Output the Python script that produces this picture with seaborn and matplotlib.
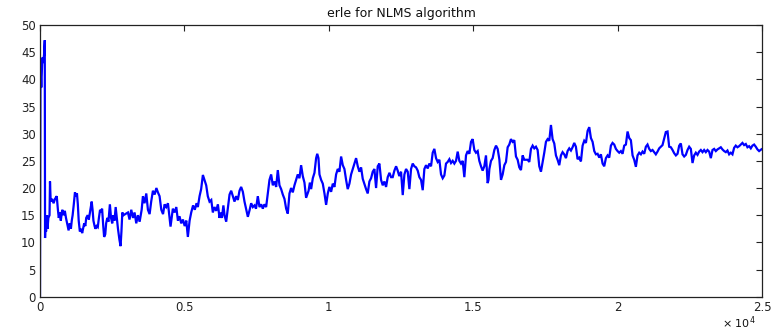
import matplotlib
matplotlib.use("Agg")
import matplotlib.pyplot as plt
import seaborn as sns
import pandas as pd

# sample index (x) and ERLE value (dB)
sample = [
    0, 15, 30, 45, 60, 80, 110, 140, 165, 175, 190, 210, 240, 260, 290, 330, 346, 370, 420, 470,
    520, 580, 620, 650, 690, 720, 770, 820, 860, 900, 950, 990, 1030, 1070, 1100, 1130, 1170, 1210,
    1250, 1280, 1310, 1340, 1380, 1420, 1460, 1490, 1530, 1570, 1600, 1650, 1690, 1730, 1790, 1820,
    1850, 1890, 1920, 1960, 2000, 2040, 2080, 2110, 2150, 2190, 2220, 2260, 2290, 2330, 2370, 2420,
    2460, 2500, 2540, 2580, 2620, 2660, 2700, 2750, 2790, 2820, 2850, 2890,
    3045, 3100, 3160, 3220, 3275, 3333, 3390, 3450, 3520, 3564, 3620, 3680, 3737, 3795, 3850, 3910,
    3970, 4030, 4083, 4140, 4200, 4260, 4315, 4370, 4430, 4520, 4600, 4660, 4720, 4775, 4830, 4890,
    4950, 5010, 5065, 5120, 5180, 5236, 5300, 5360, 5420, 5466, 5525, 5580, 5640, 5695, 5755, 5810,
    5870, 5930, 5985, 6040, 6100, 6160, 6215,
    6250, 6300, 6350, 6390, 6447, 6510, 6563, 6620, 6678, 6735, 6790, 6850, 6908, 6965, 7024, 7081,
    7197, 7260, 7312, 7370, 7427, 7480, 7542, 7600, 7660, 7715, 7770, 7830, 7888, 7946, 8004, 8061,
    8120, 8177, 8234, 8292, 8350, 8407, 8465, 8523, 8580, 8638, 8695, 8753, 8811, 8868, 8925, 8984,
    9041, 9099, 9157, 9214,
    9300, 9345, 9388, 9446, 9504, 9561, 9600, 9642, 9677, 9734, 9792, 9850, 9907, 9965, 10020, 10080,
    10138, 10195, 10253, 10310, 10368, 10426, 10484, 10541, 10599, 10655, 10714, 10772, 10830, 10945,
    11003, 11060, 11118, 11175, 11291, 11348, 11406, 11464, 11521, 11579, 11637, 11694, 11752, 11810,
    11867, 11925, 11983, 12040, 12100, 12156, 12213, 12271, 12330, 12386,
    12440, 12502, 12560, 12618, 12675, 12733, 12790, 12848, 12905, 12963, 13021, 13079, 13136, 13194,
    13252, 13309, 13367, 13425, 13482, 13540, 13598, 13655, 13713, 13770, 13828, 13886, 13944, 14001,
    14059, 14117, 14175, 14232, 14290, 14347, 14405, 14463, 14520, 14578, 14635, 14693, 14751, 14808,
    14866, 14924, 14981, 15039, 15096, 15154, 15212, 15270, 15327, 15385, 15443, 15500,
    15530, 15560, 15616, 15674, 15732, 15790, 15847, 15905, 15962, 16020, 16078, 16135, 16193, 16250,
    16308, 16365, 16423, 16481, 16539, 16596, 16654, 16712, 16769, 16885, 16942, 17000, 17058, 17115,
    17173, 17231, 17288, 17346, 17461, 17519, 17577, 17634, 17692, 17749, 17807, 17865, 17922, 17980,
    18038, 18095, 18153, 18211, 18268, 18326, 18384, 18441, 18499, 18556, 18614,
    18670, 18730, 18788, 18845, 18903, 18961, 19019, 19076, 19134, 19192, 19249, 19307, 19365, 19422,
    19480, 19537, 19595, 19653, 19710, 19768, 19825, 19883, 19941, 19999, 20056, 20114, 20172, 20229,
    20287, 20345, 20402, 20460, 20518, 20575, 20633, 20690, 20748, 20806, 20863, 20921, 20979, 21036,
    21094, 21151, 21209, 21267, 21324, 21382, 21440, 21498, 21555, 21670, 21729, 21786,
    21845, 21902, 21960, 22018, 22075, 22133, 22190, 22248, 22305, 22363, 22421, 22478, 22536, 22594,
    22651, 22709, 22767, 22824, 22882, 22940, 22997, 23055, 23113, 23170, 23228, 23286, 23343, 23401,
    23458, 23516, 23574, 23631, 23689, 23747, 23804, 23862, 23920, 23977, 24035, 24092, 24150, 24208,
    24266, 24323, 24381, 24439, 24496, 24554, 24612, 24669, 24727, 24785, 24843, 24900, 25000,
]
erle = [
    0, 38, 40.5, 38.5, 41, 44, 43, 44.5, 47.2, 10.8, 13.5, 12, 15, 12.5, 14.5, 15, 21.2, 17.5, 18, 17.2,
    18, 18.5, 16, 14.5, 15.5, 14, 16, 15, 15.8, 14.5, 13.2, 12.2, 13.5, 12.5, 14, 15, 17, 19.2,
    18.5, 19, 17, 14, 12, 12.5, 11.7, 12.5, 13.5, 13, 14.5, 15, 14.2, 15.5, 17.5, 16,
    14, 13, 12.5, 13, 12.8, 14.5, 16, 15.5, 16.2, 13, 11, 11.5, 13.5, 14.5, 13.8, 17,
    14.5, 13.5, 15, 14, 16.5, 14.5, 12.5, 10.5, 9.3, 12, 15.5, 15,
    15.5, 14.2, 16, 14.5, 15.5, 13.5, 15, 13.8, 16, 18.5, 17.2, 19, 16, 15.2, 17.5, 19.5,
    18.8, 20, 19.2, 18.5, 16, 15.2, 17, 16.5, 17.2, 12.9, 16.2, 15.5, 16.5, 14, 14.8, 13.5,
    14.2, 13, 14, 11, 14, 15.5, 16.8, 16, 17.2, 16.5, 18.5, 19.8, 22.4, 21.5, 20.5, 18.5,
    17.5, 17.8, 15.5, 16.5, 15.8, 17, 14.5,
    15.5, 14.5, 16.8, 15, 13.8, 16.5, 18.8, 19.5, 18.5, 17.5, 18.5, 17.8, 19.5, 20.2, 19.3, 17.5,
    14.7, 16, 17.2, 16.5, 16.8, 16.2, 18.5, 16.5, 17, 16.2, 17, 16.5, 19, 21.5, 22.5, 20.5,
    21.2, 20.2, 23.3, 20.5, 19.8, 18.8, 18, 16.2, 15.3, 19, 20, 19.2, 20.5, 21.5, 22.5, 21.8,
    24.2, 22.2, 21, 18.2,
    19.5, 21, 19.8, 21.8, 22.8, 25.5, 26.3, 25.5, 22.5, 21.5, 20.8, 19, 16.9, 19, 20.2, 19.3,
    20.8, 20.2, 22.5, 23.5, 23, 25.8, 24.2, 23.5, 21.5, 19.8, 20.8, 22.5, 23.5, 25.5,
    24, 23, 23.8, 21.7, 19.8, 19, 21.2, 21.8, 23, 23.5, 20, 24, 24.5, 21.5,
    20.5, 21.2, 20.2, 22, 22.8, 22, 22, 23.2, 24, 23.2,
    22.2, 23, 18.7, 22.5, 23.5, 23, 19.8, 23.5, 24.5, 24, 23.8, 23.2, 22, 21.5,
    19.6, 23.5, 24.2, 23.6, 24.5, 24, 26.5, 27.2, 25.5, 24.8, 25.2, 22.5, 21.8, 22.3,
    24.5, 24.8, 25.3, 24.6, 25, 24.5, 25, 26.7, 25, 24.5, 25, 22, 26, 26.8,
    26.3, 28.5, 29, 27, 26.5, 26.8, 25, 24, 23.2, 24, 26, 20.9,
    21.5, 23.5, 25, 25.5, 27, 27.8, 27.2, 25.3, 21.5, 22.5, 24.2, 24.8, 27.5, 28,
    29, 28.5, 28.8, 25.8, 25.2, 23.8, 23.3, 26, 25.2, 25.2, 24.8, 27.2, 27.8, 27.3,
    27.6, 27, 24, 23, 26.5, 28.5, 29, 28.7, 31.6, 29, 28.2, 26, 25.2, 24.2,
    26, 26.6, 26.2, 25.5, 26.8, 27.3, 26.9, 27.5, 28.3, 27.6, 25.3,
    25.6, 24.9, 27.8, 28.7, 28.3, 30.5, 31.2, 29.2, 28.5, 26.8, 26.2, 26.3, 25.6, 26.2,
    24.5, 24, 25.5, 26, 25.6, 27.8, 28.3, 28, 27.2, 26.8, 26.5, 26.8, 26.3, 27.8,
    28, 30.4, 29.2, 28.8, 26, 25.2, 23.9, 26, 26.5, 26.2, 26.7, 26.3, 27.6, 28,
    27.2, 26.8, 27, 26.6, 26.2, 26.7, 27.3, 27.6, 27.9, 30.3, 30.4, 27.6,
    27.5, 27, 26.4, 26, 26.3, 27.8, 28.2, 26.2, 25.8, 26.1, 27, 27.6, 27.2, 24.6,
    26, 26.5, 26.1, 26.7, 27, 26.6, 27, 26.6, 27, 26.7, 25.5, 27, 27.2, 26.8,
    27.1, 27.3, 27.5, 27.1, 26.8, 26.6, 26.9, 26.2, 26.5, 26.2, 27.4, 27.8, 27.5, 27.7,
    28, 28.3, 27.9, 28.1, 27.5, 27.7, 27.3, 27.8, 28, 27.6, 27.1, 26.8, 27.2,
]

xtick_vals = [0, 5000, 10000, 15000, 20000, 25000]
xtick_labels = ["0", "0.5", "1", "1.5", "2", "2.5"]
ytick_vals = [0, 5, 10, 15, 20, 25, 30, 35, 40, 45, 50]

df = pd.DataFrame({"sample": sample, "erle": erle})

sns.set_style("white")
plt.rcParams["font.family"] = ["DejaVu Sans"]

fig = plt.figure(figsize=(7.77, 3.31), dpi=100)
ax = fig.add_axes([40 / 777, 1 - 296.7 / 331, (762 - 40) / 777, (296.7 - 25) / 331])

sns.lineplot(data=df, x="sample", y="erle", ax=ax, color="#0000ff",
             linewidth=1.6, estimator=None, sort=False)
for ln in ax.get_lines():
    ln.set_solid_joinstyle("miter")

ax.set_xlim(0, 25000)
ax.set_ylim(0, 50)
ax.set_xticks(xtick_vals)
ax.set_xticklabels(xtick_labels)
ax.set_yticks(ytick_vals)
ax.set_yticklabels([str(v) for v in ytick_vals])
ax.set_xlabel("")
ax.set_ylabel("")

ax.tick_params(axis="both", direction="in", length=4, width=0.8, colors="#222222",
               labelsize=8.5, top=True, right=True, pad=3)
for s in ax.spines.values():
    s.set_color("#222222")
    s.set_linewidth(0.9)
    s.set_visible(True)

ax.set_title("erle for NLMS algorithm", fontsize=9, color="#111111", pad=6)
fig.text(756 / 777, 3 / 331, "\u00d7 10$^4$", ha="right", va="baseline",
         fontsize=8, color="#111111")

fig.savefig("out.png", dpi=100)
